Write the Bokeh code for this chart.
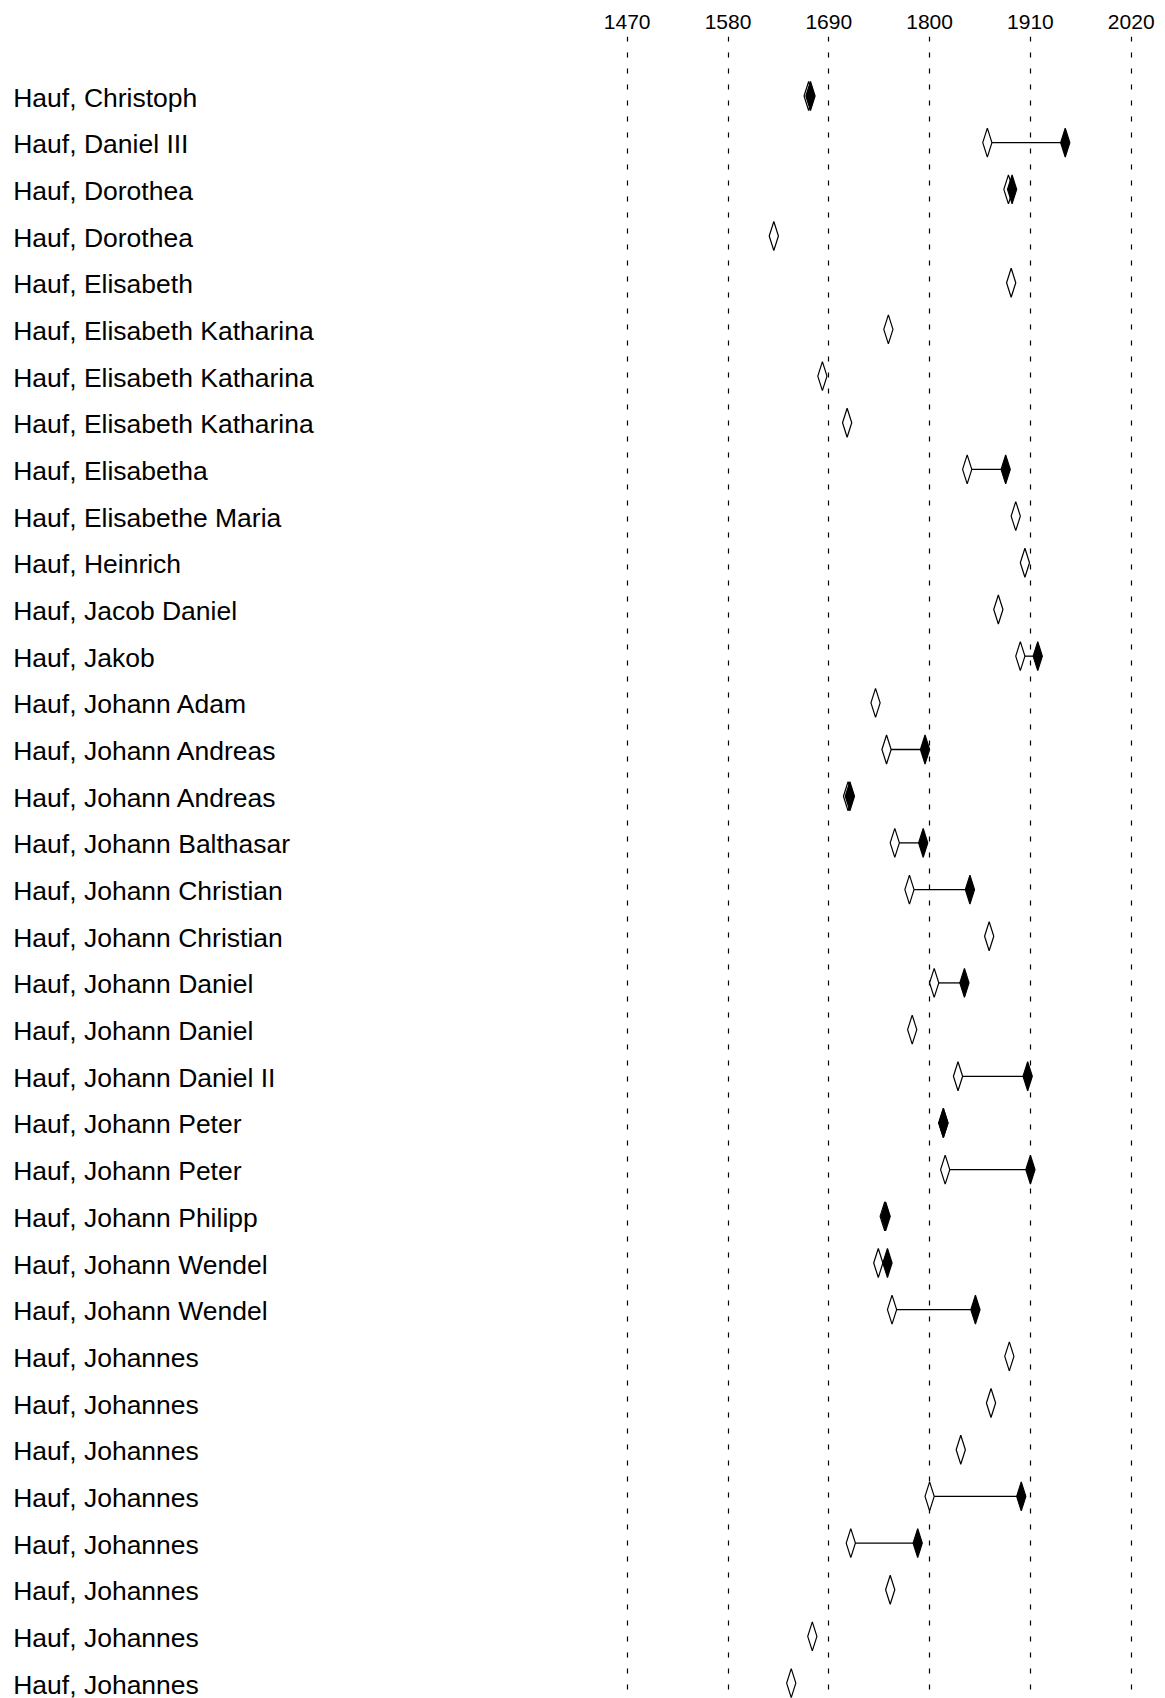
from bokeh.plotting import figure
from bokeh.models import Range1d, FixedTicker, ColumnDataSource
from bokeh.core.properties import value
from bokeh.embed import file_html
from bokeh.resources import INLINE

# ---------------- data ----------------
names = [
    "Hauf, Christoph", "Hauf, Daniel III", "Hauf, Dorothea", "Hauf, Dorothea",
    "Hauf, Elisabeth", "Hauf, Elisabeth Katharina", "Hauf, Elisabeth Katharina",
    "Hauf, Elisabeth Katharina", "Hauf, Elisabetha", "Hauf, Elisabethe Maria",
    "Hauf, Heinrich", "Hauf, Jacob Daniel", "Hauf, Jakob", "Hauf, Johann Adam",
    "Hauf, Johann Andreas", "Hauf, Johann Andreas", "Hauf, Johann Balthasar",
    "Hauf, Johann Christian", "Hauf, Johann Christian", "Hauf, Johann Daniel",
    "Hauf, Johann Daniel", "Hauf, Johann Daniel II", "Hauf, Johann Peter",
    "Hauf, Johann Peter", "Hauf, Johann Philipp", "Hauf, Johann Wendel",
    "Hauf, Johann Wendel", "Hauf, Johannes", "Hauf, Johannes", "Hauf, Johannes",
    "Hauf, Johannes", "Hauf, Johannes", "Hauf, Johannes", "Hauf, Johannes",
    "Hauf, Johannes",
]
birth = [1668, 1863, 1886, 1630, 1889, 1755, 1683, 1710, 1841, 1894,
         1904, 1875, 1899, 1741, 1753, 1711, 1762, 1778, 1865, 1805,
         1781, 1831, 1815, 1817, 1751, 1744, 1759, 1887, 1867, 1834,
         1800, 1714, 1757, 1672, 1649]
death = [1670, 1948, 1890, None, None, None, None, None, 1883, None,
         None, None, 1918, None, 1795, 1713, 1793, 1844, None, 1838,
         None, 1907, 1815, 1910, 1752, 1754, 1850, None, None, None,
         1900, 1787, None, None, None]
TICKS = [1470, 1580, 1690, 1800, 1910, 2020]

# ---------------- layout constants ----------------
W, H = 1165, 1698
TOP = 36
PX_PER_YEAR = 0.9164
X_FIRST_TICK_PX = 626.7
ROW0_PX = 95.5
ROW_STEP = 46.68
HALF_W_PX = 4.6
HALF_H_PX = 14.5
LABEL_PX = 12.7

x_start = TICKS[0] - X_FIRST_TICK_PX / PX_PER_YEAR
x_end = x_start + W / PX_PER_YEAR
y_top = (TOP - ROW0_PX) / ROW_STEP
y_bot = (H - ROW0_PX) / ROW_STEP
hw = HALF_W_PX / PX_PER_YEAR
hh = HALF_H_PX / ROW_STEP

rows = list(range(len(names)))

p = figure(width=W, height=H,
           x_range=Range1d(x_start, x_end), y_range=Range1d(y_bot, y_top),
           output_backend="svg", toolbar_location=None, tools="",
           x_axis_location="above", y_axis_location=None,
           min_border_left=0, min_border_right=0, min_border_bottom=0,
           min_border_top=TOP, outline_line_color=None)

for gr in p.grid:
    if gr.dimension == 1:
        gr.visible = False

ticker = FixedTicker(ticks=TICKS)
ax = p.xaxis[0]
ax.ticker = ticker
ax.axis_line_color = None
ax.major_tick_line_color = None
ax.minor_tick_line_color = None
ax.major_tick_out = 0
ax.major_tick_in = 0
ax.major_label_standoff = 8
ax.major_label_text_font = "Liberation Sans"
ax.major_label_text_font_size = "21px"
ax.major_label_text_color = "black"

g = p.xgrid[0]
g.ticker = ticker
g.grid_line_color = "black"
g.grid_line_width = 1.2
g.grid_line_dash = "5 11"

# labels
lab_src = ColumnDataSource(dict(
    x=[x_start + LABEL_PX / PX_PER_YEAR] * len(names), y=rows, text=names))
p.text(x="x", y="y", text="text", source=lab_src,
       text_font=value("Liberation Sans"), text_font_size="26.5px",
       text_color="black", text_baseline="alphabetic", y_offset=1.5)

# connecting lines
seg = dict(x0=[], x1=[], y=[])
for r, b, d in zip(rows, birth, death):
    if d is not None and d != b:
        seg["x0"].append(b)
        seg["x1"].append(d)
        seg["y"].append(r)
p.segment(x0="x0", y0="y", x1="x1", y1="y", source=ColumnDataSource(seg),
          line_color="black", line_width=1.3)


def diamonds(xs_vals, ys_vals):
    return dict(
        xs=[[x - hw, x, x + hw, x] for x in xs_vals],
        ys=[[y, y - hh, y, y + hh] for y in ys_vals],
    )


p.patches(xs="xs", ys="ys", source=ColumnDataSource(diamonds(birth, rows)),
          fill_color="white", line_color="black", line_width=1.2)

d_x = [d for d in death if d is not None]
d_y = [r for r, d in zip(rows, death) if d is not None]
p.patches(xs="xs", ys="ys", source=ColumnDataSource(diamonds(d_x, d_y)),
          fill_color="black", line_color="black", line_width=1.2)

open("out.html", "w").write(file_html(p, INLINE))
